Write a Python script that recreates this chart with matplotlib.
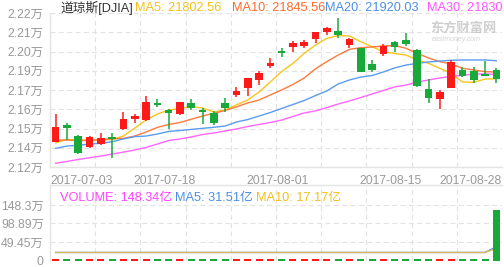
import matplotlib
matplotlib.use('Agg')
import matplotlib.pyplot as plt
import numpy as np

plt.rcParams['font.family'] = ['Liberation Sans', 'Noto Sans CJK SC']

# ---------- DATA ----------
dates = ['2017-07-03', '2017-07-05', '2017-07-06', '2017-07-07', '2017-07-10', '2017-07-11',
         '2017-07-12', '2017-07-13', '2017-07-14', '2017-07-17', '2017-07-18', '2017-07-19',
         '2017-07-20', '2017-07-21', '2017-07-24', '2017-07-25', '2017-07-26', '2017-07-27',
         '2017-07-28', '2017-07-31', '2017-08-01', '2017-08-02', '2017-08-03', '2017-08-04',
         '2017-08-07', '2017-08-08', '2017-08-09', '2017-08-10', '2017-08-11', '2017-08-14',
         '2017-08-15', '2017-08-16', '2017-08-17', '2017-08-18', '2017-08-21', '2017-08-22',
         '2017-08-23', '2017-08-24', '2017-08-25', '2017-08-28']
opens = [21394, 21503, 21431, 21358, 21379, 21427, 21475, 21540, 21535, 21646,
         21598, 21573, 21648, 21600, 21579, 21648, 21698, 21741, 21795, 21886,
         21983, 22011, 22014, 22062, 22109, 22112, 22022, 22001, 21897, 21961,
         22044, 22055, 21990, 21735, 21670, 21746, 21863, 21855, 21834, 21860]
closes = [21492, 21481, 21323, 21425, 21418, 21412, 21540, 21564, 21649, 21635,
          21579, 21650, 21615, 21584, 21516, 21615, 21725, 21806, 21842, 21907,
          21972, 22032, 22044, 22107, 22133, 22090, 22059, 21849, 21860, 22016,
          22009, 22031, 21758, 21681, 21717, 21912, 21819, 21793, 21822, 21803]
highs = [21572, 21518, 21438, 21431, 21449, 21451, 21589, 21573, 21691, 21670,
         21605, 21655, 21670, 21611, 21596, 21676, 21750, 21806, 21853, 21940,
         22001, 22050, 22055, 22107, 22137, 22196, 22066, 22003, 21925, 22029,
         22048, 22098, 21994, 21800, 21730, 21925, 21877, 21879, 21916, 21871]
lows = [21394, 21405, 21312, 21355, 21373, 21287, 21470, 21518, 21529, 21622,
        21477, 21570, 21597, 21508, 21503, 21584, 21687, 21693, 21762, 21871,
        21946, 21979, 22001, 22033, 22087, 22066, 22001, 21845, 21845, 21953,
        21979, 22018, 21751, 21648, 21605, 21746, 21816, 21775, 21818, 21777]

ma5 = [21386, 21409, 21405, 21405, 21405, 21409, 21431, 21483, 21535, 21574,
       21600, 21610, 21622, 21613, 21587, 21600, 21633, 21665, 21717, 21782,
       21850, 21903, 21968, 22022, 22066, 22083, 22081, 22044, 22011, 21979,
       21967, 21957, 21925, 21903, 21871, 21838, 21782, 21780, 21801, 21803]
ma10 = [21405, 21405, 21402, 21402, 21409, 21412, 21416, 21431, 21457, 21487,
        21506, 21519, 21540, 21561, 21579, 21597, 21620, 21646, 21665, 21698,
        21730, 21766, 21808, 21868, 21914, 21957, 21994, 22005, 22009, 22016,
        22019, 22001, 21968, 21938, 21914, 21899, 21871, 21860, 21849, 21846]
ma20 = [21351, 21366, 21371, 21379, 21384, 21394, 21412, 21427, 21431, 21444,
        21461, 21467, 21474, 21481, 21488, 21496, 21522, 21538, 21561, 21584,
        21610, 21636, 21662, 21694, 21724, 21769, 21795, 21814, 21824, 21847,
        21873, 21892, 21903, 21912, 21918, 21923, 21925, 21925, 21925, 21920]
ma30 = [21254, 21266, 21279, 21290, 21301, 21314, 21327, 21340, 21357, 21379,
        21402, 21412, 21425, 21441, 21451, 21464, 21477, 21493, 21506, 21519,
        21535, 21558, 21581, 21594, 21616, 21639, 21659, 21681, 21704, 21727,
        21750, 21762, 21782, 21795, 21808, 21818, 21827, 21832, 21835, 21830]

volume = [5] * 39 + [136]
vol_ma5 = [21.5] * 39 + [37]
vol_ma10 = [21.5] * 39 + [32]

price_ticks = [22230, 22105, 21980, 21855, 21730, 21605, 21480, 21355, 21230]
price_labels = ['2.22万', '2.21万', '2.20万', '2.19万', '2.17万', '2.16万', '2.15万', '2.14万', '2.12万']
vol_ticks = [0, 49.45, 98.89, 148.3]
vol_labels = ['0', '49.45万', '98.89万', '148.3万']
date_labels = ['2017-07-03', '2017-07-18', '2017-08-01', '2017-08-15', '2017-08-28']

legend_main = [('道琼斯[DJIA]', '#333333'), ('MA5: 21802.56', '#f5c01a'),
               ('MA10: 21845.56', '#ff6a2a'), ('MA20: 21920.03', '#4a8fe7'),
               ('MA30: 21830.03', '#ff55ff')]
legend_vol = [('VOLUME: 148.34亿', '#ff44ff'), ('MA5: 31.51亿', '#4a8fe7'),
              ('MA10: 17.17亿', '#f5c01a')]

# ---------- STYLE ----------
RED, GREEN = '#ff1a1a', '#19a83a'
C_MA5, C_MA10, C_MA20, C_MA30 = '#f8c51c', '#ff7a3d', '#5b9cf0', '#ff66ff'
GRID = '#e2e2e2'
SPINE = '#e4e4e4'
TXT = '#999999'

W, H = 504, 267
fig = plt.figure(figsize=(W / 100, H / 100), dpi=100)


def px_rect(l, t, r, b):
    return [l / W, 1 - b / H, (r - l) / W, (b - t) / H]


ax = fig.add_axes(px_rect(50, 13, 502, 167))
axv = fig.add_axes(px_rect(50, 185, 502, 260.5))

x = np.arange(len(dates))
o, c = np.array(opens), np.array(closes)
cols = np.where(c >= o, RED, GREEN)

ax.plot(x, ma5, color=C_MA5, lw=1.0, zorder=2)
ax.plot(x, ma10, color=C_MA10, lw=1.0, zorder=2)
ax.plot(x, ma20, color=C_MA20, lw=1.0, zorder=2)
ax.plot(x, ma30, color=C_MA30, lw=1.0, zorder=2)

ax.vlines(x, lows, highs, colors=cols, lw=1.1, zorder=3)
ax.bar(x, np.maximum(np.abs(c - o), 9), 0.68, bottom=np.minimum(o, c),
       color=cols, linewidth=0, zorder=3)

ax.set_xlim(-0.5, len(dates) - 0.5)
ax.set_ylim(price_ticks[-1], price_ticks[0])
ax.set_yticks(price_ticks)
ax.set_yticklabels(price_labels)
xgrid = np.linspace(-0.5, len(dates) - 0.5, 11)
ax.set_xticks(xgrid)
ax.set_xticklabels([])

# volume panel
axv.bar(x, volume, 0.62, color=cols, linewidth=0, zorder=3, clip_on=False)
axv.plot(x, vol_ma5, color=C_MA20, lw=1.0, zorder=2)
axv.plot(x, vol_ma10, color='#d8b860', lw=1.0, zorder=2)
axv.set_xlim(-0.5, len(dates) - 0.5)
axv.set_ylim(0, 201.7)
axv.set_yticks(vol_ticks)
axv.set_yticklabels(vol_labels)
axv.set_xticks(xgrid)
axv.set_xticklabels([])

for a in (ax, axv):
    a.grid(True, ls=(0, (4.5, 3)), color=GRID, lw=0.8, zorder=0)
    a.tick_params(length=0, pad=4.5, labelsize=8.8, labelcolor=TXT)
    for s in a.spines.values():
        s.set_color(SPINE)
        s.set_linewidth(1.0)
    a.spines['right'].set_visible(False)
ax.spines['top'].set_visible(False)
axv.spines['bottom'].set_visible(False)

# date labels
for i, d in enumerate(date_labels):
    idx = dates.index(d)
    ha = 'left' if i == 0 else ('right' if i == len(date_labels) - 1 else 'center')
    xp = -0.42 if i == 0 else (len(dates) - 0.55 if ha == 'right' else idx - 0.4)
    ax.text(xp, -0.055, d, transform=ax.get_xaxis_transform(), ha=ha, va='top',
            fontsize=8.8, color=TXT)

# legends
for (t, col), xp in zip(legend_main, [60, 135, 232, 325, 427]):
    fig.text(xp / W, 1 - 8 / H, t, color=col, fontsize=9.2, va='center', ha='left')
for (t, col), xp in zip(legend_vol, [60, 175, 256]):
    fig.text(xp / W, 1 - 198 / H, t, color=col, fontsize=9.2, va='center', ha='left')

# watermark
fig.text(430 / W, 1 - 29 / H, '东方财富网', color='#c4c4c4', fontsize=9.5,
         fontweight='bold', va='center', ha='left', alpha=0.8)
fig.text(432 / W, 1 - 39.5 / H, 'eastmoney.com', color='#c8c8c8', fontsize=5,
         style='italic', va='center', ha='left', alpha=0.8)

fig.savefig('out.png', dpi=100)
